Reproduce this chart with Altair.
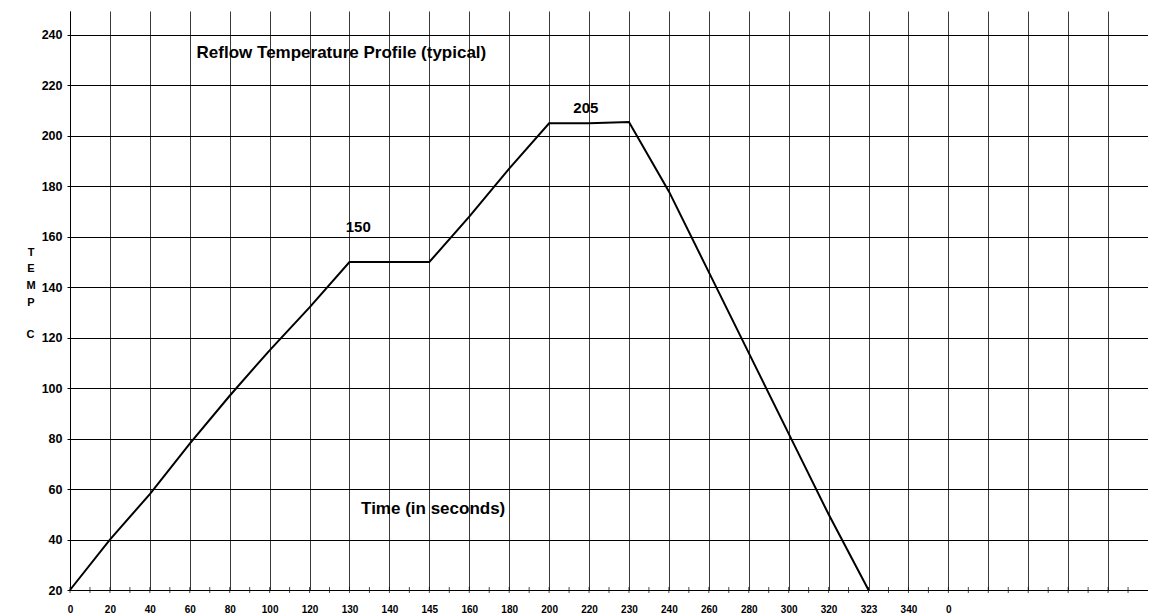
import altair as alt
import pandas as pd

# ---- data ----
times = ["0", "20", "40", "60", "80", "100", "120", "130", "140", "145", "160",
         "180", "200", "220", "230", "240", "260", "280", "300", "320", "323"]
temps = [20, 40, 58, 78, 97, 115, 132, 150, 150, 150, 168,
         187, 205, 205, 205.5, 178, 146, 114, 82, 50, 20]

x_labels = ["0", "20", "40", "60", "80", "100", "120", "130", "140", "145", "160",
            "180", "200", "220", "230", "240", "260", "280", "300", "320", "323",
            "340", "0", "", "", "", ""]
y_ticks = [20, 40, 60, 80, 100, 120, 140, 160, 180, 200, 220, 240]

y_title_lines = ["T", "E", "M", "P"]
unit_text = ["C"]
unit_x = [-0.99]
unit_y = [119.9]

note_texts = ["Reflow Temperature Profile (typical)", "Time (in seconds)"]
note_x = [3.17, 7.29]
note_y = [230.7, 50.0]

peak_texts = ["150", "205"]
peak_x = [7.22, 12.92]
peak_y = [162.0, 209.2]

FONT = "Liberation Sans"
N_CAT = len(x_labels)  # 27 category slots, axis runs to 27

df = pd.DataFrame({"pos": list(range(len(times))), "time": times, "temp": temps})
notes_df = pd.DataFrame({"x": note_x, "y": note_y, "t": note_texts})
peaks_df = pd.DataFrame({"x": peak_x, "y": peak_y, "t": peak_texts})
unit_df = pd.DataFrame({"x": unit_x, "y": unit_y, "t": unit_text})
ticks_df = pd.DataFrame({"p": [i / 2 for i in range(2 * N_CAT)]})

label_array = "[" + ",".join("'" + s + "'" for s in x_labels) + "]"

xscale = alt.Scale(domain=[0, N_CAT], nice=False, zero=False)
yscale = alt.Scale(domain=[20, 249.5], nice=False, zero=False)

line = alt.Chart(df).mark_line(color="black", strokeWidth=2).encode(
    x=alt.X("pos:Q", scale=xscale,
            axis=alt.Axis(values=list(range(N_CAT)),
                          labelExpr=label_array + "[datum.value]",
                          title=None, ticks=False, grid=True,
                          gridColor="#3a3a3a", gridOpacity=1, gridWidth=1,
                          domainColor="black", domainWidth=1,
                          labelFont=FONT, labelFontWeight="bold", labelFontSize=10,
                          labelColor="black", labelPadding=14, labelBaseline="top",
                          labelAlign="center", labelFlush=False, labelOverlap=False)),
    y=alt.Y("temp:Q", scale=yscale,
            axis=alt.Axis(values=y_ticks, grid=True,
                          gridColor="black", gridOpacity=1, gridWidth=1,
                          domainColor="black", domainWidth=1,
                          ticks=True, tickSize=3, tickColor="black",
                          labelFont=FONT, labelFontWeight="bold", labelFontSize=12.5,
                          labelColor="black", labelPadding=5, labelFlush=False,
                          labelOverlap=False,
                          title=y_title_lines,
                          titleAngle=0, titleX=-39.5, titleY=244,
                          titleAlign="center", titleBaseline="alphabetic",
                          titleFont=FONT, titleFontWeight="bold", titleFontSize=11,
                          titleLineHeight=16.7, titleColor="black")),
)

tick_marks = alt.Chart(ticks_df).mark_tick(
    orient="vertical", size=6, thickness=1, color="black"
).encode(
    x=alt.X("p:Q", scale=xscale),
    y=alt.datum(20, scale=yscale),
)

notes = alt.Chart(notes_df).mark_text(
    align="left", baseline="alphabetic", font=FONT, fontWeight="bold",
    fontSize=17, color="black"
).encode(
    x=alt.X("x:Q", scale=xscale),
    y=alt.Y("y:Q", scale=yscale),
    text="t:N",
)

peaks = alt.Chart(peaks_df).mark_text(
    align="center", baseline="alphabetic", font=FONT, fontWeight="bold",
    fontSize=15, color="black"
).encode(
    x=alt.X("x:Q", scale=xscale),
    y=alt.Y("y:Q", scale=yscale),
    text="t:N",
)

unit = alt.Chart(unit_df).mark_text(
    align="center", baseline="alphabetic", font=FONT, fontWeight="bold",
    fontSize=11, color="black"
).encode(
    x=alt.X("x:Q", scale=xscale),
    y=alt.Y("y:Q", scale=yscale),
    text="t:N",
)

chart = alt.layer(line, tick_marks, notes, peaks, unit).properties(
    width=1078, height=579,
    padding={"left": 62, "top": 3, "right": 0, "bottom": 30},
    autosize=alt.AutoSizeParams(type="none"),
    background="white",
).configure_view(stroke=None)

chart.save("out.html", embed_options={"renderer": "svg", "actions": False})
